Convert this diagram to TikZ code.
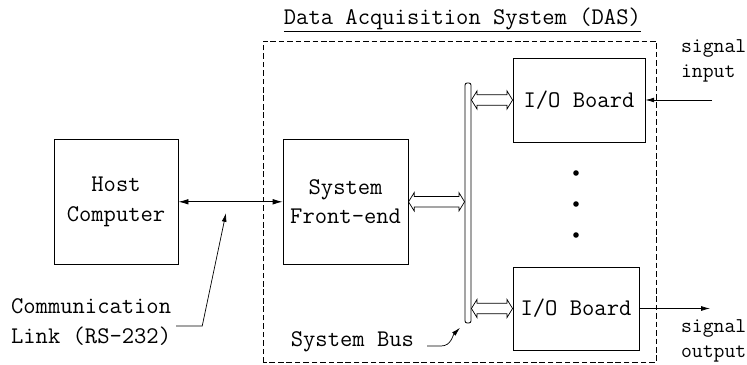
\documentclass[tikz,border=0pt]{standalone}
\usepackage{tikz}
\usetikzlibrary{arrows.meta,calc}

% hollow two-way bus arrow between two points at the same height
\newcommand{\busarrow}[2]{%
  \draw[busline] let \p1=(#1), \p2=(#2) in
    (\x1,\y1) -- (\x1+4pt,\y1+6.5pt) -- (\x1+4pt,\y1+3.7pt)
    -- (\x2-4pt,\y2+3.7pt) -- (\x2-4pt,\y2+6.5pt) -- (\x2,\y2)
    -- (\x2-4pt,\y2-6.5pt) -- (\x2-4pt,\y2-3.7pt)
    -- (\x1+4pt,\y1-3.7pt) -- (\x1+4pt,\y1-6.5pt) -- cycle;}

\begin{document}
\begin{tikzpicture}[
  font=\ttfamily\fontsize{17}{21}\selectfont,
  line width=0.6pt,
  block/.style={draw,align=center,inner sep=0pt},
  busline/.style={line width=0.5pt,line join=miter},
  busbar/.style={draw,rounded corners=1.5pt,minimum width=0.15cm,
    minimum height=6cm,inner sep=0pt},
  dot/.style={circle,fill,inner sep=0pt,minimum size=0.14cm},
  sig/.style={anchor=west,align=left,font=\ttfamily\fontsize{15}{18}\selectfont},
  link/.style={{Latex[length=2.5mm,width=1.4mm]}-{Latex[length=2.5mm,width=1.4mm]}},
  pointer/.style={line width=0.5pt,-{Latex[length=2.2mm,width=1.2mm]}}
]
  \useasboundingbox (0,0) rectangle (18.675,9.125);

  % DAS enclosure and its heading
  \draw[dash pattern=on 4pt off 2pt,line width=0.5pt] (6.575,0.06) rectangle (16.4,8.1);
  \node[anchor=base,inner sep=0pt] (title) at (11.56,8.52)
    {\underline{Data Acquisition System (DAS)}};

  % blocks
  \node[block,minimum width=3.1cm,minimum height=3.125cm] (host) at (2.9,4.08)
    {Host\\Computer};
  \node[block,minimum width=3.125cm,minimum height=3.125cm] (front) at (8.64,4.08)
    {System\\Front-end};
  \node[busbar] (bus) at (11.7,4.05) {};
  \node[block,minimum width=3.3cm,minimum height=2.1cm] (ioA) at (14.475,6.625)
    {I/O Board};
  \node[block,minimum width=3.15cm,minimum height=2.075cm] (ioB) at (14.4,1.4125)
    {I/O Board};
  \foreach \y [count=\i] in {4.8,4.025,3.25}
    \node[dot] (dot\i) at (14.4,\y) {};

  % serial link host <-> front-end
  \draw[link] (host.east) -- (front.west);

  % bus connections
  \busarrow{front.east}{front.east -| bus.west}
  \busarrow{bus.east |- ioA.west}{ioA.west}
  \busarrow{bus.east |- ioB.west}{ioB.west}

  % field signals
  \node[sig] (sigin) at (16.9,7.6) {signal\\input};
  \coordinate (inpt) at (17.8,6.625);
  \draw[pointer] (inpt) -- (ioA.east);
  \node[sig] (sigout) at (16.9,0.6) {signal\\output};
  \coordinate (outpt) at (17.75,1.4125);
  \draw[pointer] (ioB.east) -- (outpt);

  % labels with leaders
  \node[anchor=west,align=left] (commlabel) at (0.15,1.075)
    {Communication\\Link (RS-232)};
  \coordinate (linktip) at (5.65,3.8);
  \draw[pointer] ([yshift=-1mm]commlabel.east) -- ++(0.65,0) -- (linktip);
  \node (buslabel) at (8.81,0.575) {System Bus};
  \coordinate (bustip) at (11.5,0.93);
  \draw[pointer] ([xshift=2mm,yshift=-1mm]buslabel.east) -- ++(0.35,0)
    to[out=0,in=225] (bustip);
\end{tikzpicture}
\end{document}
